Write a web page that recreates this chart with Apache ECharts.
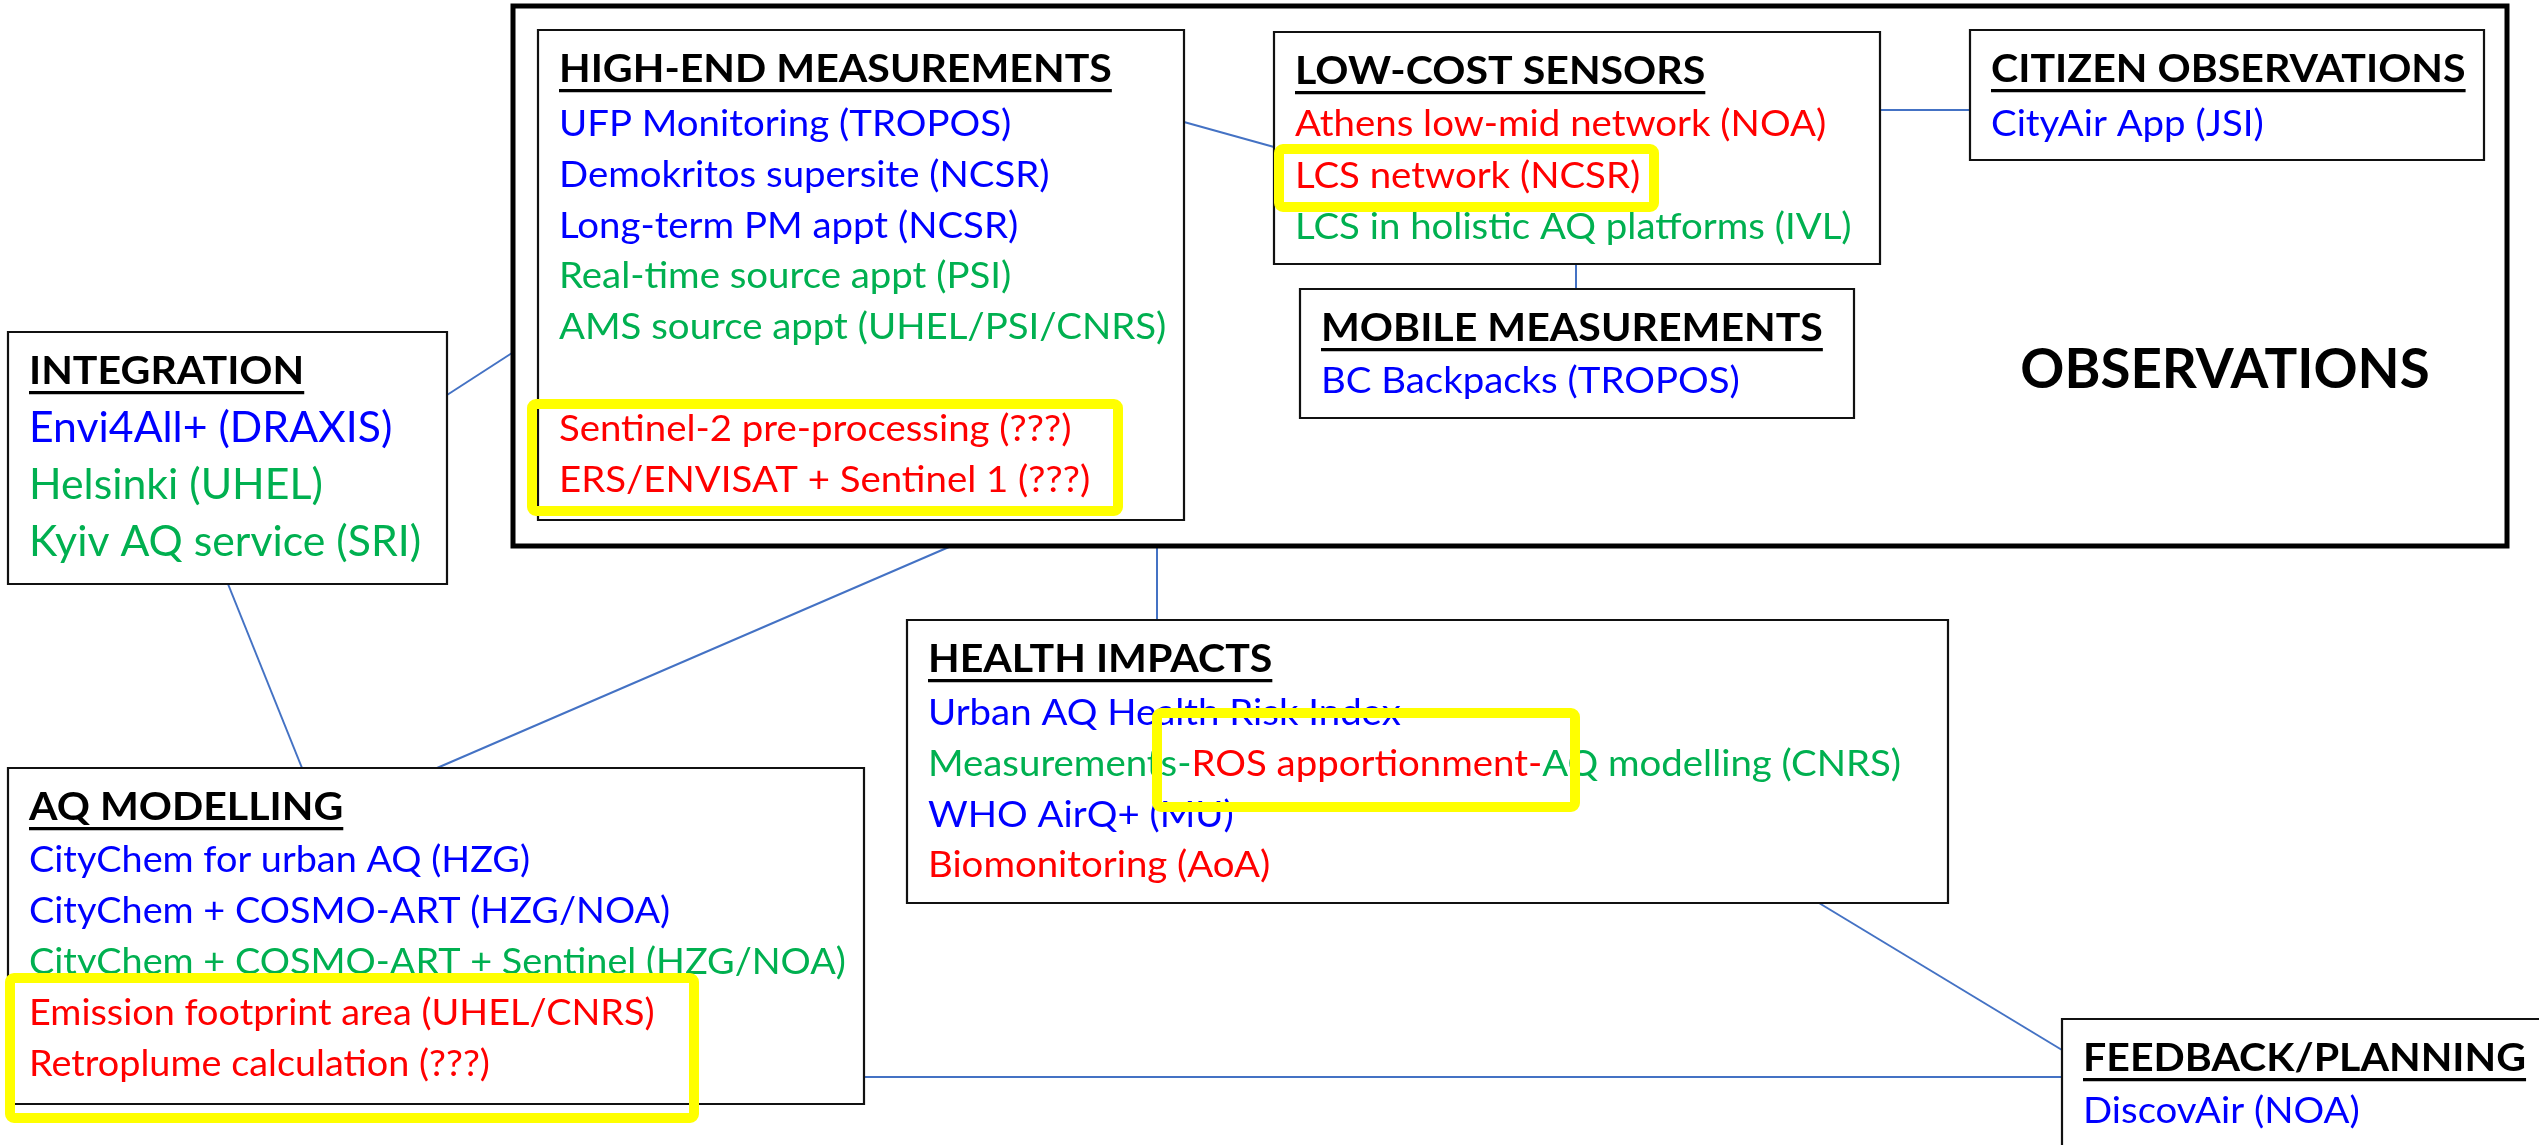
<!DOCTYPE html>
<html><head><meta charset="utf-8">
<script src="https://cdn.jsdelivr.net/npm/echarts@6/dist/echarts.min.js"></script>
<style>html,body{margin:0;padding:0;background:#fff;}#main{width:2539px;height:1145px;}</style>
</head><body><div id="main"></div>
<script>
// ---------- content ----------
const groupTitle = 'OBSERVATIONS';
const boxTitles = ['HIGH-END MEASUREMENTS','LOW-COST SENSORS','CITIZEN OBSERVATIONS','MOBILE MEASUREMENTS','INTEGRATION','HEALTH IMPACTS','AQ MODELLING','FEEDBACK/PLANNING'];
// each item = list of [text, status]; status b = blue, g = green, r = red
const highEndItems = [
  [['UFP Monitoring (TROPOS)','b']],
  [['Demokritos supersite (NCSR)','b']],
  [['Long-term PM appt (NCSR)','b']],
  [['Real-time source appt (PSI)','g']],
  [['AMS source appt (UHEL/PSI/CNRS)','g']],
  [],
  [['Sentinel-2 pre-processing (???)','r']],
  [['ERS/ENVISAT + Sentinel 1 (???)','r']]
];
const lowCostItems = [
  [['Athens low-mid network (NOA)','r']],
  [['LCS network (NCSR)','r']],
  [['LCS in holistic AQ platforms (IVL)','g']]
];
const citizenItems = [[['CityAir App (JSI)','b']]];
const mobileItems = [[['BC Backpacks (TROPOS)','b']]];
const integrationItems = [
  [['Envi4All+ (DRAXIS)','b']],
  [['Helsinki (UHEL)','g']],
  [['Kyiv AQ service (SRI)','g']]
];
const healthItems = [
  [['Urban AQ Health Risk Index','b']],
  [['Measurements-','g'],['ROS apportionment-','r'],['AQ modelling (CNRS)','g']],
  [['WHO AirQ+ (MU)','b']],
  [['Biomonitoring (AoA)','r']]
];
const modellingItems = [
  [['CityChem for urban AQ (HZG)','b']],
  [['CityChem + COSMO-ART (HZG/NOA)','b']],
  [['CityChem + COSMO-ART + Sentinel (HZG/NOA)','g']],
  [['Emission footprint area (UHEL/CNRS)','r']],
  [['Retroplume calculation (???)','r']]
];
const feedbackItems = [[['DiscovAir (NOA)','b']]];
const boxItems = [highEndItems, lowCostItems, citizenItems, mobileItems, integrationItems, healthItems, modellingItems, feedbackItems];

// ---------- layout (diagram coordinates) ----------
const groupRect = [513, 6, 2507, 546];
const groupLabelAt = [2225, 391];
const boxRects = [
  [538, 30, 1184, 520],
  [1274, 32, 1880, 264],
  [1970, 30, 2484, 160],
  [1300, 289, 1854, 418],
  [8, 332, 447, 584],
  [907, 620, 1948, 903],
  [8, 768, 864, 1104],
  [2062, 1019, 2600, 1200]
];
// body font size, first item baseline offset, line gap, width adjustment
const boxText = [
  [36, 107.5, 50.9, 1], [36, 106, 51.5, 1], [36, 107.5, 51, 1], [36, 106, 51, 1],
  [42, 112, 57, 0.955], [36, 107, 50.7, 1], [36, 106, 51, 0.985], [36, 106, 51, 1]
];
const links = [
  [447, 395, 512, 353],
  [228, 584, 302, 768],
  [437, 768, 949, 547],
  [1157, 547, 1157, 620],
  [864, 1077, 2062, 1077],
  [1819, 903, 2062, 1050],
  [1184, 122, 1274, 147],
  [1880, 110, 1970, 110],
  [1576, 264, 1576, 289]
];
const highlights = [
  [532, 404, 1118, 511],
  [1279, 149, 1654, 207],
  [1157, 713, 1575, 807],
  [10, 978, 694, 1118]
];

// ---------- styling ----------
const STATUS_COLORS = {b:'#0000FF', g:'#00B050', r:'#FF0000'};
const FAMILY = 'Lato';
const HEAD_SIZE = 39, HEAD_OFF = 54, PAD = 21;
const GROUP_SIZE = 56, GROUP_ADJ = 0.925;
const ctx = document.createElement('canvas').getContext('2d');
function tw(t, size, bold){ ctx.font = (bold ? 'bold ' : '') + size + 'px ' + FAMILY; return ctx.measureText(t).width; }
// condense Lato to Calibri-like proportions (calibrated on a few reference lines)
const SX_BODY = (446 + 494 + 462) / (tw('UFP Monitoring (TROPOS)',36) + tw('Demokritos supersite (NCSR)',36) + tw('Long-term PM appt (NCSR)',36));
const SX_HEAD = (554 + 404 + 507) / (tw('HIGH-END MEASUREMENTS',HEAD_SIZE,true) + tw('LOW-COST SENSORS',HEAD_SIZE,true) + tw('MOBILE MEASUREMENTS',HEAD_SIZE,true));

function textEl(t, x, baseline, size, bold, fill, sx, align){
  return {type:'text', x: x, y: baseline - 0.37*size, scaleX: sx,
    style:{text:t, x:0, y:0, fontSize:size, fontFamily:FAMILY, fontWeight: bold ? 'bold' : 'normal', fill:fill, verticalAlign:'middle', align: align || 'left'}};
}

function renderBox(params, api){
  const i = api.value(4);
  const a = api.coord([api.value(0), api.value(1)]);
  const b = api.coord([api.value(2), api.value(3)]);
  const [size, first, gap, adj] = boxText[i];
  const sx = SX_BODY * adj;
  const ch = [];
  ch.push({type:'rect', shape:{x:a[0], y:a[1], width:b[0]-a[0], height:b[1]-a[1]}, style:{fill:'#fff', stroke:'#111', lineWidth:2.2}});
  const tx = a[0] + PAD, hb = a[1] + HEAD_OFF;
  ch.push(textEl(boxTitles[i], tx, hb, HEAD_SIZE, true, '#000', SX_HEAD));
  const hw = tw(boxTitles[i], HEAD_SIZE, true) * SX_HEAD;
  ch.push({type:'rect', shape:{x:tx, y:hb+5, width:hw, height:3.2}, style:{fill:'#000'}});
  boxItems[i].forEach((segs, j) => {
    let x = tx; const y = a[1] + first + j*gap;
    segs.forEach(([t, s]) => {
      ch.push(textEl(t, x, y, size, false, STATUS_COLORS[s], sx));
      x += tw(t, size, false) * sx;
    });
  });
  return {type:'group', children: ch};
}

function renderGroup(params, api){
  const a = api.coord([api.value(0), api.value(1)]);
  const b = api.coord([api.value(2), api.value(3)]);
  const c = api.coord(groupLabelAt);
  return {type:'group', children:[
    {type:'rect', shape:{x:a[0], y:a[1], width:b[0]-a[0], height:b[1]-a[1]}, style:{fill:'none', stroke:'#000', lineWidth:5}},
    textEl(groupTitle, c[0], c[1], GROUP_SIZE, true, '#000', SX_HEAD * GROUP_ADJ, 'center')
  ]};
}

function renderLink(params, api){
  const a = api.coord([api.value(0), api.value(1)]);
  const b = api.coord([api.value(2), api.value(3)]);
  return {type:'line', shape:{x1:a[0], y1:a[1], x2:b[0], y2:b[1]}, style:{stroke:'#4472C4', lineWidth:2}};
}

function renderHighlight(params, api){
  const a = api.coord([api.value(0), api.value(1)]);
  const b = api.coord([api.value(2), api.value(3)]);
  return {type:'rect', shape:{x:a[0], y:a[1], width:b[0]-a[0], height:b[1]-a[1], r:4}, style:{fill:'none', stroke:'#FFFF00', lineWidth:10}};
}

const chart = echarts.init(document.getElementById('main'), null, {renderer:'canvas'});
chart.setOption({
  animation: false,
  backgroundColor: '#fff',
  grid: {left:0, right:0, top:0, bottom:0},
  xAxis: {type:'value', min:0, max:2539, show:false},
  yAxis: {type:'value', min:0, max:1145, inverse:true, show:false},
  series: [
    {type:'custom', name:'links', renderItem: renderLink, clip:false, z:1, silent:true,
     data: links, encode:{x:[0,2], y:[1,3]}},
    {type:'custom', name:'group', renderItem: renderGroup, clip:false, z:2, silent:true,
     data: [groupRect], encode:{x:[0,2], y:[1,3]}},
    {type:'custom', name:'boxes', renderItem: renderBox, clip:false, z:3, silent:true,
     data: boxRects.map((r, i) => r.concat([i])), encode:{x:[0,2], y:[1,3]}},
    {type:'custom', name:'highlights', renderItem: renderHighlight, clip:false, z:4, silent:true,
     data: highlights, encode:{x:[0,2], y:[1,3]}}
  ]
});
</script>
</body></html>
